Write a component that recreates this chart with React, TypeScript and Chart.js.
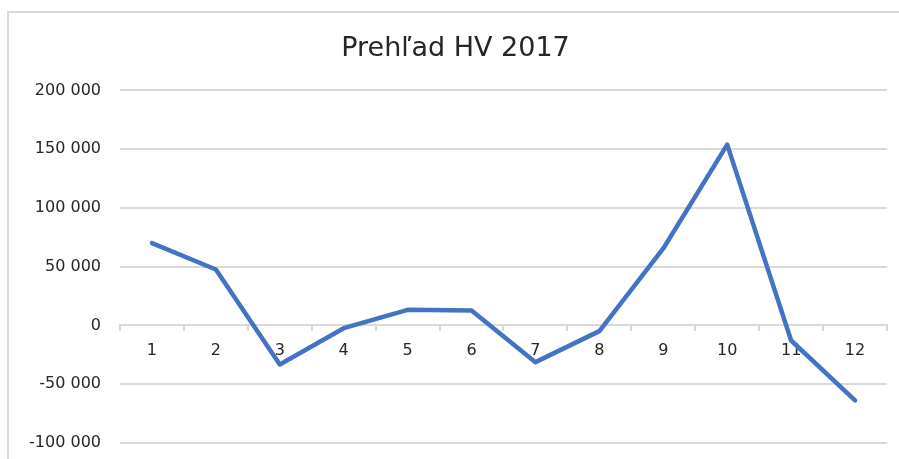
import React, { useEffect, useRef } from "react";
import { Chart, registerables } from "chart.js";

Chart.register(...registerables);

const categories = ["1", "2", "3", "4", "5", "6", "7", "8", "9", "10", "11", "12"];
const hvValues = [70000, 47600, -33200, -2300, 13300, 12800, -31200, -4800, 65500, 153900, -12800, -63800];
const yMin = -100000;
const yMax = 200000;
const yStep = 50000;
const titleText = "Prehľad HV 2017";

function fmt(v: number): string {
  const s = String(Math.abs(Math.round(v))).replace(/\B(?=(\d{3})+(?!\d))/g, " ");
  return (v < 0 ? "-" : "") + s;
}

const FONT = "'DejaVu Sans', 'Noto Sans', sans-serif";

export default function App() {
  const ref = useRef<HTMLCanvasElement | null>(null);
  useEffect(() => {
    document.body.style.margin = "0";
    const ctx = ref.current!.getContext("2d")!;
    const chart = new Chart(ctx, {
      type: "line",
      data: {
        labels: categories,
        datasets: [
          {
            data: hvValues,
            borderColor: "#4472C4",
            borderWidth: 4.5,
            pointRadius: 0,
            tension: 0,
            borderJoinStyle: "round",
            borderCapStyle: "round",
          },
        ],
      },
      options: {
        animation: false,
        responsive: false,
        maintainAspectRatio: false,
        layout: { padding: { left: 24, right: 12, top: 0, bottom: 16 } },
        plugins: {
          legend: { display: false },
          tooltip: { enabled: false },
          title: {
            display: true,
            text: titleText,
            color: "#262626",
            font: { family: FONT, size: 27, weight: "normal" },
            padding: { top: 33, bottom: 25 },
          },
        },
        scales: {
          x: {
            type: "category",
            position: { y: 0 } as any,
            offset: true,
            afterFit: (scale: any) => {
              scale.height = 0;
            },
            grid: {
              offset: true,
              drawOnChartArea: false,
              drawTicks: true,
              tickLength: 5,
              color: "#d9d9d9",
              lineWidth: 2,
            },
            border: { display: true, color: "#d9d9d9", width: 2 },
            ticks: {
              color: "#262626",
              font: { family: FONT, size: 16 },
              padding: 11,
              maxRotation: 0,
              autoSkip: false,
            },
          },
          y: {
            min: yMin,
            max: yMax,
            afterFit: (scale: any) => {
              scale.width = 96;
            },
            grid: {
              color: "#d9d9d9",
              lineWidth: 2,
              drawTicks: true,
              tickLength: 19,
              tickColor: "rgba(0,0,0,0)",
            },
            border: { display: false },
            ticks: {
              stepSize: yStep,
              color: "#262626",
              font: { family: FONT, size: 16 },
              padding: 0,
              callback: (v: any) => fmt(Number(v)),
            },
          },
        },
      },
    });
    return () => chart.destroy();
  }, []);
  return (
    <div style={{ position: "relative", width: 899, height: 459, overflow: "hidden", background: "#fff" }}>
      <div
        style={{
          position: "absolute",
          left: 7,
          top: 11,
          width: 1000,
          height: 1000,
          borderLeft: "2px solid #d9d9d9",
          borderTop: "2px solid #d9d9d9",
        }}
      />
      <canvas
        ref={ref}
        width={899}
        height={459}
        style={{ position: "absolute", left: 0, top: 0, width: 899, height: 459 }}
      />
    </div>
  );
}
